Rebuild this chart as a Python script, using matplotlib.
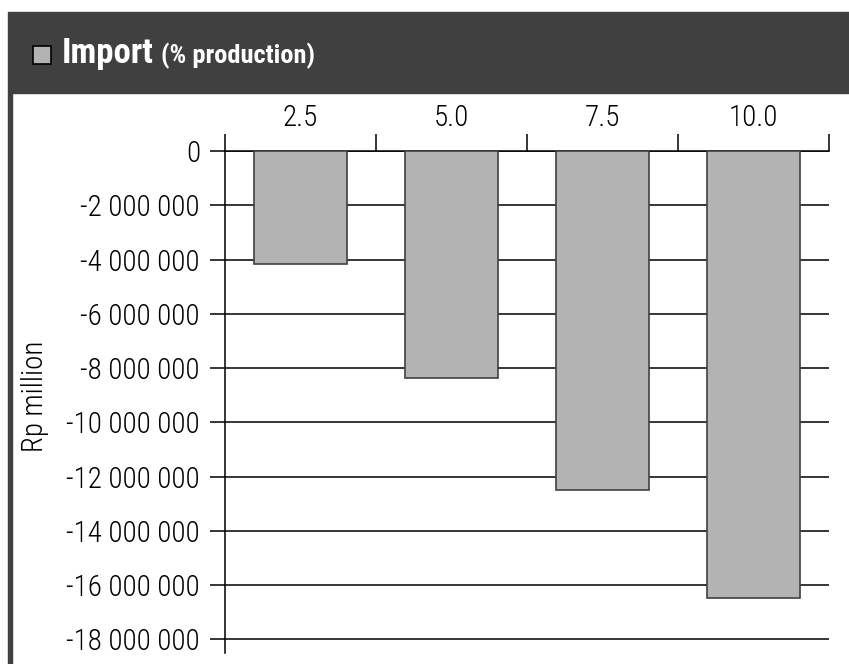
import matplotlib
matplotlib.use("Agg")
import matplotlib.pyplot as plt
from matplotlib.patches import Rectangle
from matplotlib.ticker import FuncFormatter, FixedLocator

categories = ["2.5", "5.0", "7.5", "10.0"]
values = [-4170000, -8370000, -12480000, -16480000]
yticks = list(range(0, -18000001, -2000000))

W, H = 849, 664
FONTS = ["Roboto Condensed", "Barlow Semi Condensed", "Archivo Narrow", "DejaVu Sans"]
plt.rcParams['font.family'] = FONTS
fig = plt.figure(figsize=(W / 100, H / 100), dpi=100)

def px(x0, y0, x1, y1):
    return [x0 / W, 1 - y1 / H, (x1 - x0) / W, (y1 - y0) / H]

# header band and left border
fig.patches.append(Rectangle((8 / W, 1 - 93 / H), (W - 8) / W, 81 / H,
                             transform=fig.transFigure, color="#404040", zorder=0))
fig.patches.append(Rectangle((8 / W, 0), 4 / W, 1 - 93 / H,
                             transform=fig.transFigure, color="#404040", zorder=0))
fig.patches.append(Rectangle((33 / W, 1 - 64 / H), 18 / W, 18 / H,
                             transform=fig.transFigure, facecolor="#b3b3b3",
                             edgecolor="black", lw=1.2, zorder=2))
t1 = fig.text(62 / W, 1 - 54 / H, "Import", color="white", fontsize=25,
              fontweight="bold", va="center", ha="left")
fig.canvas.draw()
bb = t1.get_window_extent()
fig.text(bb.x1 / W + 7 / W, 1 - 56 / H, "(% production)", color="white",
         fontsize=19, fontweight="bold", va="center", ha="left")

ax = fig.add_axes(px(225, 151, 829, 653))
x = list(range(len(categories)))
ax.bar(x, values, width=0.62, color="#b3b3b3", edgecolor="#404040",
       linewidth=1.2, zorder=3)
ax.set_xlim(-0.5, len(categories) - 0.5)
ax.set_ylim(-18500000, 0)

ax.set_yticks(yticks)
ax.yaxis.set_major_formatter(FuncFormatter(
    lambda v, p: ("-" if v < 0 else "") + f"{abs(int(v)):,}".replace(",", " ")))
ax.tick_params(axis="y", direction="out", length=11, width=1.1, pad=7,
               labelsize=21, colors="black")
ax.yaxis.grid(True, color="black", linewidth=1.1, zorder=1)
ax.set_axisbelow(True)

ax.xaxis.tick_top()
ax.xaxis.set_major_locator(FixedLocator([i - 0.5 for i in range(len(categories) + 1)]))
ax.xaxis.set_minor_locator(FixedLocator(x))
ax.xaxis.set_major_formatter(FuncFormatter(lambda v, p: ""))
ax.xaxis.set_minor_formatter(FuncFormatter(lambda v, p: categories[int(round(v))]))
ax.tick_params(axis="x", which="major", direction="out", length=12, width=1.1,
               top=True, bottom=False)
ax.tick_params(axis="x", which="minor", length=0, pad=14, labelsize=21,
               top=True, bottom=False, labeltop=True, labelbottom=False)

for s in ["right", "bottom"]:
    ax.spines[s].set_visible(False)
for s in ["left", "top"]:
    ax.spines[s].set_linewidth(1.1)

fig.canvas.draw()
for lab in ax.get_yticklabels() + ax.xaxis.get_minorticklabels():
    lab.set_fontweight(300)

fig.text(35 / W, 1 - 396 / H, "Rp million", rotation=90, fontsize=21,
         fontweight=300, va="center", ha="center")

fig.savefig("out.png", dpi=100)
